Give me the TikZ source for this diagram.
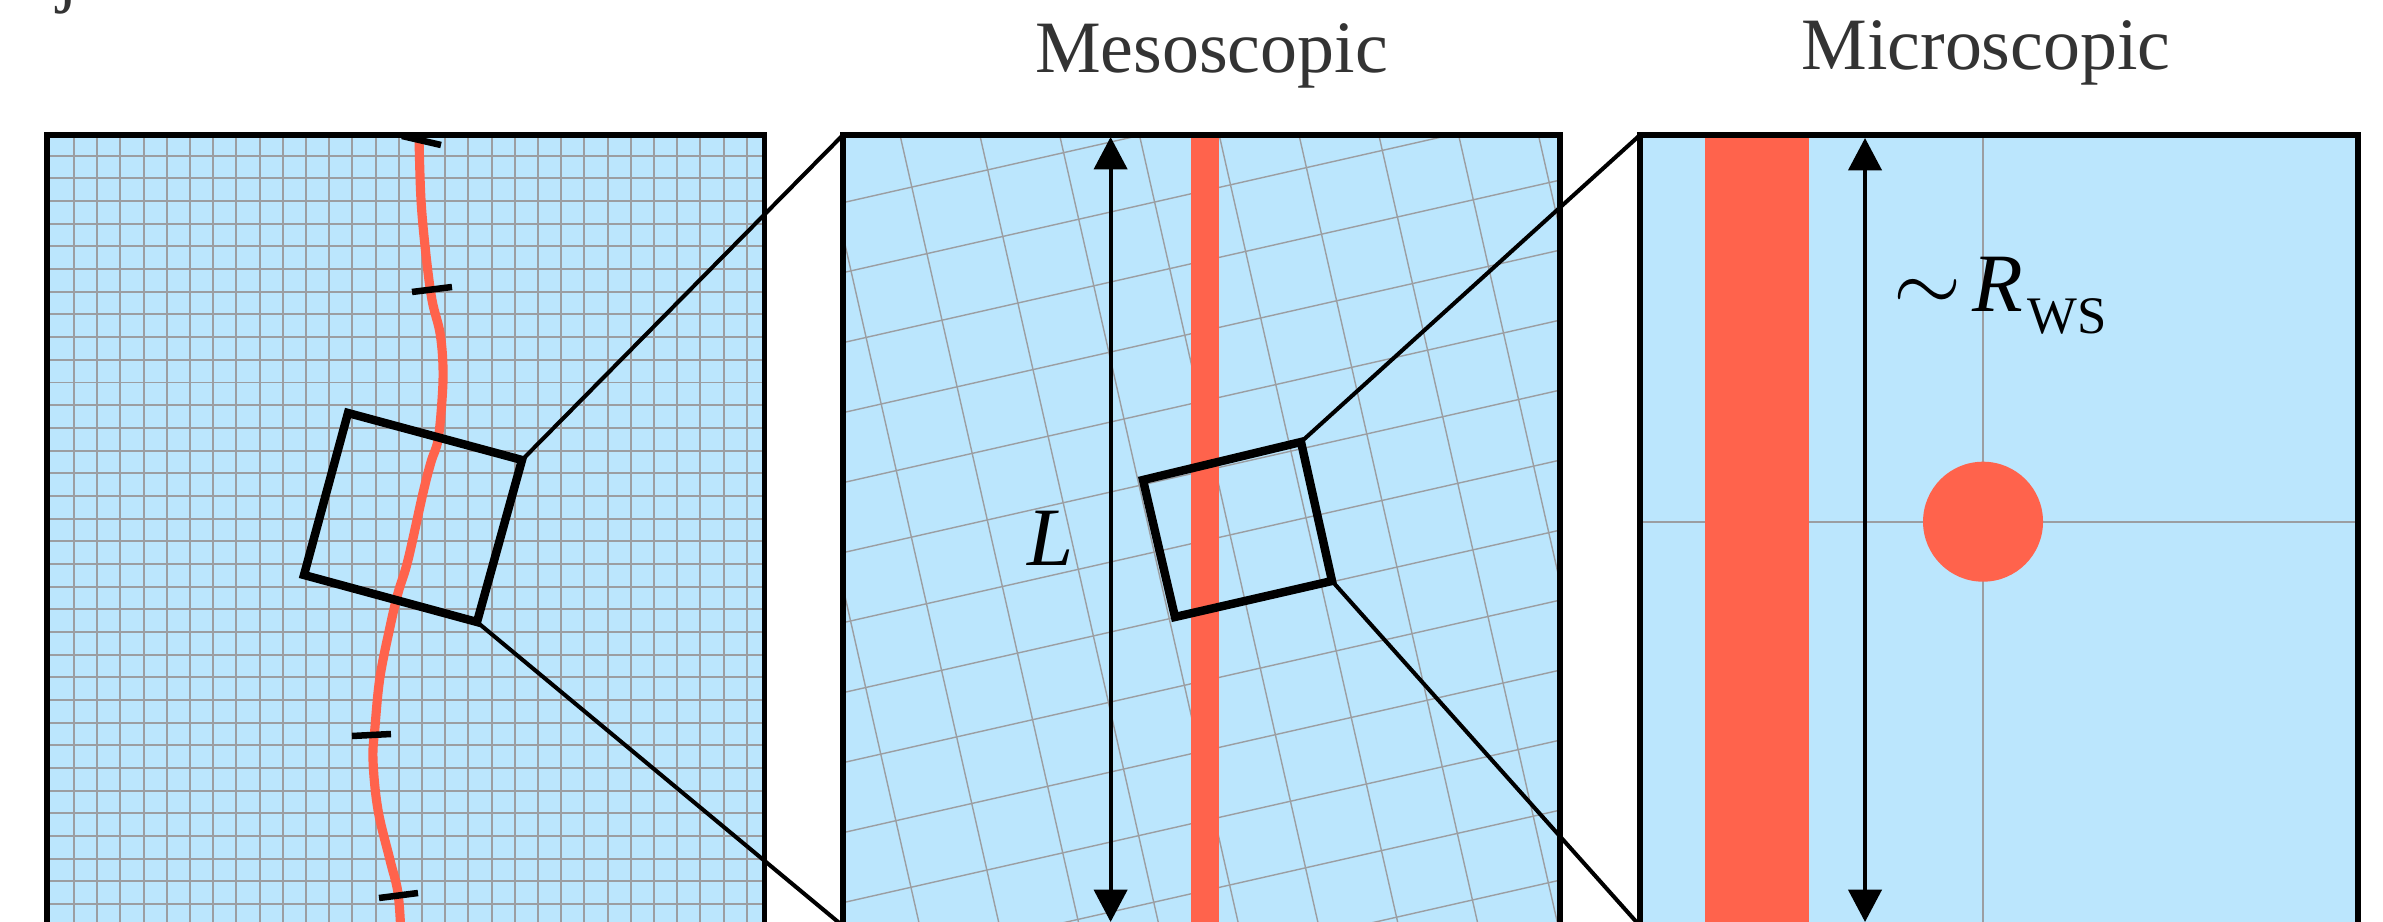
\documentclass[tikz,border=0pt]{standalone}
\usepackage{fontspec}
\setmainfont{Liberation Serif}
\usetikzlibrary{arrows.meta}
\definecolor{bgblue}{RGB}{187,230,253}
\definecolor{gridgrey}{RGB}{155,158,162}
\definecolor{tomatored}{RGB}{255,99,76}
\definecolor{titlegrey}{RGB}{51,51,51}
\begin{document}
\begin{tikzpicture}[x=0.01cm,y=-0.01cm,
  panelfill/.style={fill=bgblue},
  panelborder/.style={draw=black,line width=1.45pt},
  gridline/.style={draw=gridgrey,line width=0.55pt},
  gridlinethin/.style={draw=gridgrey,line width=0.4pt},
  zoombox/.style={draw=black,line width=2.4pt,line join=miter},
  zoomline/.style={draw=black,line width=1.15pt},
  redline/.style={draw=tomatored,line width=2.6pt},
  tickmark/.style={draw=black,line width=1.85pt},
  dimarrow/.style={draw=black,line width=1.15pt,{Triangle[length=9.2pt,width=9.4pt]}-{Triangle[length=9.2pt,width=9.4pt]}},
  title/.style={text=titlegrey,font=\fontsize{21pt}{25pt}\selectfont,anchor=base,inner sep=0pt},
  symb/.style={font=\fontsize{23.6pt}{28pt}\selectfont,inner sep=0pt}
]
\useasboundingbox (0,0) rectangle (2383,922);
\clip (0,0) rectangle (2383,922);

% ---------- coordinates ----------
\coordinate (A1) at (47,135);
\coordinate (A3) at (764.5,935);
\coordinate (B1) at (843,135);
\coordinate (B3) at (1560,935);
\coordinate (B4) at (843,926);
\coordinate (C1) at (1640,135);
\coordinate (C3) at (2358,935);
\coordinate (C4) at (1640,926);
% left zoom box
\coordinate (lTL) at (348,413);
\coordinate (lTR) at (522,460);
\coordinate (lBR) at (477,622);
\coordinate (lBL) at (304,575);
% middle zoom box
\coordinate (mTL) at (1143,480);
\coordinate (mTR) at (1301,442);
\coordinate (mBR) at (1332,581);
\coordinate (mBL) at (1175,617);

% fragment of text above
\node[title,anchor=base west] (jfrag) at (57,-1) {j};

% ---------- left panel ----------
\fill[bgblue] (A1) rectangle (A3);
\begin{scope}
\clip (A1) rectangle (A3);
\foreach \i in {0,...,29} \draw[gridline] ({74+23.2*\i},135) -- ({74+23.2*\i},935);
\foreach \j in {0,...,34} \draw[gridline] (47,{155.7+22.68*\j}) -- (764.5,{155.7+22.68*\j});
\end{scope}
\draw[redline] plot[smooth,tension=0.6] coordinates {(419,137) (421,200) (426,255) (432,300) (440,333) (443,367) (442,400) (438,440) (431,462) (423,493) (408,560) (398,593) (390,627) (380,677) (375,727) (373,760) (378,810) (390,860) (398,893) (401,935)};
\draw[tickmark] (402,136) -- (441,145);
\draw[tickmark] (412,292) -- (452,287);
\draw[tickmark] (352,736) -- (391,734);
\draw[tickmark] (379,898) -- (418,893);
\draw[panelborder] (A1) rectangle (A3);
\draw[zoombox] (lTL) -- (lTR) -- (lBR) -- (lBL) -- cycle;

% ---------- middle panel ----------
\fill[bgblue] (B1) rectangle (B3);
\begin{scope}
\clip (B1) rectangle (B3);
\foreach \k in {-3,...,8} \draw[gridlinethin] ({900+79.8*\k},135) -- ({900+79.8*\k+0.2267*800},935);
\foreach \m in {-1,...,13} \draw[gridlinethin] (843,{202+70*\m+0.2267*3}) -- (1560,{202+70*\m-0.2267*714});
\end{scope}
\fill[tomatored] (1191,135) rectangle (1219,935);
\coordinate (Ltop) at (1110.6,137);
\coordinate (Lbot) at (1110.6,922);
\draw[dimarrow] (Lbot) -- (Ltop);
\node[symb,anchor=base] (Llab) at (1051,565) {\textit{L}};
\draw[panelborder] (B1) rectangle (B3);
\draw[zoombox] (mTL) -- (mTR) -- (mBR) -- (mBL) -- cycle;

% ---------- right panel ----------
\fill[bgblue] (C1) rectangle (C3);
\draw[gridline] (1983,135) -- (1983,935);
\draw[gridline] (1640,521.7) -- (2358,521.7);
\fill[tomatored] (1705.4,135) rectangle (1809,935);
\fill[tomatored] (1983,521.7) circle (60);
\coordinate (Rtop) at (1865,138);
\coordinate (Rbot) at (1865,922);
\draw[dimarrow] (Rbot) -- (Rtop);
\node[symb,anchor=base west] (Rlab) at (1893,311.7) {$\sim$\hspace{3pt}\textit{R}\hspace{1.2pt}\raisebox{-6.1pt}{\fontsize{15pt}{15pt}\selectfont WS}};
\draw[panelborder] (C1) rectangle (C3);

% ---------- titles ----------
\node[title] (meso) at (1211.5,73) {Mesoscopic};
\node[title] (micro) at (1986,70) {Microscopic};

% ---------- zoom connectors ----------
\draw[zoomline] (lTR) -- (B1);
\draw[zoomline] (lBR) -- (B4);
\draw[zoomline] (mTR) -- (C1);
\draw[zoomline] (mBR) -- (C4);
\end{tikzpicture}
\end{document}
